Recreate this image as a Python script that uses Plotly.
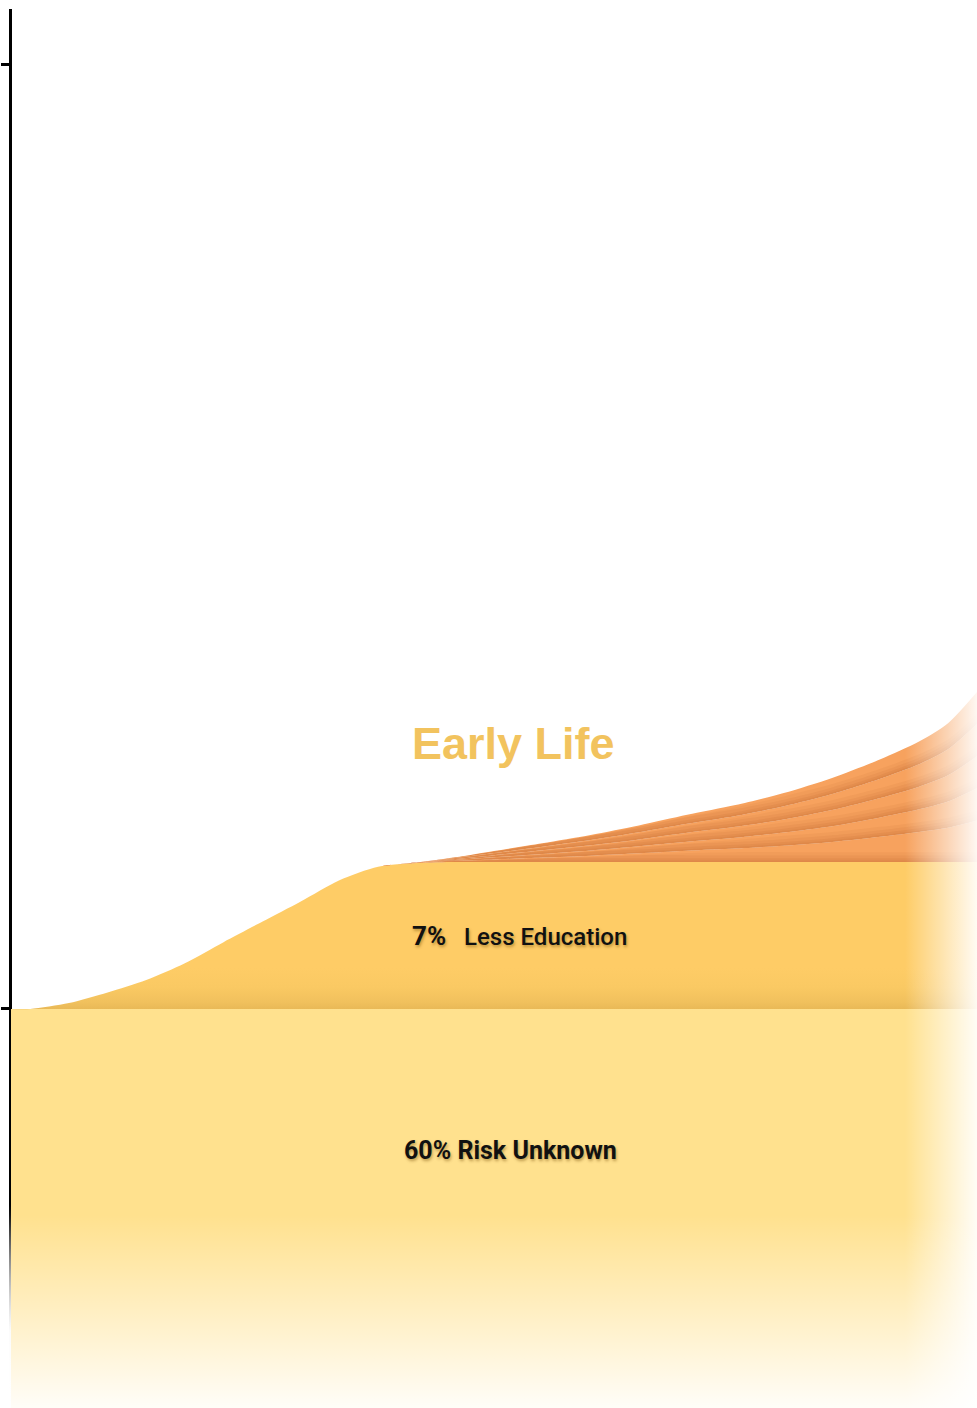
import numpy as np
import plotly.graph_objects as go

# ---------------- data ----------------
x_vals = [0, 2, 6, 10, 14, 18, 22, 26, 30, 34, 38,
          42, 46, 50, 55, 60, 65, 70, 75, 80, 85, 90, 94, 97, 100]

risk_unknown = [60] * 25

less_education = [0, 0, 0.25, 0.70, 1.23, 1.94, 2.83, 3.69, 4.55, 5.45, 6.02,
                  6.18, 6.22, 6.22, 6.22, 6.22, 6.22, 6.22, 6.22, 6.22, 6.22, 6.22, 6.22, 6.22, 6.22]

midlife_1 = [0] * 11 + [0.01, 0.05, 0.11, 0.19, 0.27, 0.37, 0.48, 0.57, 0.69, 0.85, 1.07, 1.27, 1.45, 1.76]
midlife_2 = [0] * 11 + [0.004, 0.04, 0.09, 0.15, 0.22, 0.30, 0.38, 0.46, 0.56, 0.67, 0.82, 0.96, 1.11, 1.36]
midlife_3 = [0] * 11 + [0.003, 0.04, 0.09, 0.16, 0.22, 0.29, 0.38, 0.46, 0.55, 0.68, 0.82, 0.96, 1.11, 1.36]
midlife_4 = [0] * 11 + [0.003, 0.04, 0.09, 0.15, 0.22, 0.30, 0.38, 0.46, 0.56, 0.68, 0.82, 0.95, 1.10, 1.36]
midlife_5 = [0] * 11 + [0.002, 0.03, 0.09, 0.15, 0.22, 0.29, 0.38, 0.46, 0.56, 0.68, 0.82, 0.96, 1.11, 1.36]

tick_values = [60, 100]
stage_title = "Early Life"
label_less_ed = ("7%", "Less Education")
label_unknown = "60% Risk Unknown"

# ---------------- styling ----------------
Y_MIN, Y_MAX = 43.11, 102.33
X_MIN, X_MAX = -1.139, 100

C_UNKNOWN = "#FFE18E"
C_LESS_ED = "#FECC66"
C_MID = "#F7A25E"
SHADOW = "rgba(170,80,25,{a})"
SMOOTH = 0.75

fig = go.Figure()
xs = np.array(x_vals, dtype=float)
ru = np.array(risk_unknown, dtype=float)
le_top = ru + np.array(less_education, dtype=float)

common = dict(mode="lines", hoverinfo="skip", showlegend=False)
spl = dict(width=0, shape="spline", smoothing=SMOOTH)

# bottom band
fig.add_trace(go.Scatter(x=xs, y=ru, fill="tozeroy", fillcolor=C_UNKNOWN,
                         line=dict(width=0), **common))
# less education band
fig.add_trace(go.Scatter(
    x=xs, y=le_top, fill="tonexty",
    fillgradient=dict(type="vertical", start=float(ru.min()), stop=float(le_top.max()),
                      colorscale=[[0, "#E9B957"], [0.05, "#F1C15D"], [0.15, "#FAC963"],
                                  [0.28, C_LESS_ED], [1, C_LESS_ED]]),
    line=spl, **common))

# midlife layers
layers = [midlife_1, midlife_2, midlife_3, midlife_4, midlife_5]
bounds = [le_top]
for lay in layers:
    bounds.append(bounds[-1] + np.array(lay, dtype=float))

for k, lay in enumerate(layers):
    thick = np.array(lay, dtype=float)
    fig.add_trace(go.Scatter(x=xs, y=bounds[k], line=spl, **common))
    fig.add_trace(go.Scatter(x=xs, y=bounds[k + 1], fill="tonexty", fillcolor=C_MID,
                             line=spl, **common))
    for depth, alpha in [(0.42, 0.07), (0.28, 0.08), (0.16, 0.09), (0.07, 0.08)]:
        fig.add_trace(go.Scatter(x=xs, y=bounds[k], line=spl, **common))
        fig.add_trace(go.Scatter(x=xs, y=bounds[k] + np.minimum(depth, thick * 0.8), fill="tonexty",
                                 fillcolor=SHADOW.format(a=alpha), line=spl, **common))

# right fade overlay
fx0 = 92.55
fig.add_trace(go.Scatter(
    x=[fx0, X_MAX + 1, X_MAX + 1, fx0, fx0], y=[Y_MIN - 1, Y_MIN - 1, Y_MAX + 1, Y_MAX + 1, Y_MIN - 1],
    fill="toself", line=dict(width=0),
    fillgradient=dict(type="horizontal", start=fx0, stop=X_MAX,
                      colorscale=[[0, "rgba(255,255,255,0)"], [1, "rgba(255,255,255,0.92)"]]),
    **common))
# bottom fade overlay
fy1 = 51.28
fig.add_trace(go.Scatter(
    x=[X_MIN - 1, X_MAX + 1, X_MAX + 1, X_MIN - 1, X_MIN - 1], y=[Y_MIN - 1, Y_MIN - 1, fy1, fy1, Y_MIN - 1],
    fill="toself", line=dict(width=0),
    fillgradient=dict(type="vertical", start=Y_MIN, stop=fy1,
                      colorscale=[[0, "rgba(255,255,255,0.94)"], [1, "rgba(255,255,255,0)"]]),
    **common))
# axis line fade overlay (margin strip)
fy2 = 51.70
fig.add_trace(go.Scatter(
    x=[X_MIN - 1, 0, 0, X_MIN - 1, X_MIN - 1], y=[Y_MIN - 1, Y_MIN - 1, fy2, fy2, Y_MIN - 1],
    fill="toself", line=dict(width=0),
    fillgradient=dict(type="vertical", start=Y_MIN, stop=fy2,
                      colorscale=[[0, "rgba(255,255,255,1)"], [0.38, "rgba(255,255,255,0.97)"],
                                  [1, "rgba(255,255,255,0)"]]),
    **common))

# ---------------- annotations ----------------
txt_shadow = "1px 2px 3px rgba(110,70,0,0.45)"
fig.add_annotation(x=51.97, y=71.22, xref="x", yref="y", text=stage_title, showarrow=False,
                   font=dict(family="Liberation Sans, Arial, sans-serif", size=45,
                             color="#F2C35E", weight="bold"))
fig.add_annotation(x=52.65, y=float(ru.max() + max(less_education) / 2), xref="x", yref="y",
                   text=f"<span style='font-size:26px'><b>{label_less_ed[0]}</b></span>\u00a0\u00a0\u00a0{label_less_ed[1]}",
                   showarrow=False,
                   font=dict(family="Roboto, sans-serif", size=24, color="#111111", weight=500,
                             shadow=txt_shadow))
fig.add_annotation(x=51.66, y=54.03, xref="x", yref="y", text=f"<b>{label_unknown}</b>",
                   showarrow=False,
                   font=dict(family="Roboto, sans-serif", size=25, color="#111111",
                             shadow=txt_shadow))

fig.update_layout(
    width=977, height=1408,
    margin=dict(l=0, r=0, t=9, b=0, pad=0),
    paper_bgcolor="white", plot_bgcolor="white",
    showlegend=False, hovermode=False,
    xaxis=dict(visible=False, range=[X_MIN, X_MAX], domain=[0, 1], fixedrange=True),
    yaxis=dict(range=[Y_MIN, Y_MAX], anchor="free", position=9.5 / 977, side="left",
               showline=True, linewidth=3, linecolor="black",
               ticks="outside", ticklen=8, tickwidth=3, tickcolor="black",
               tickvals=tick_values, showticklabels=False,
               showgrid=False, zeroline=False, layer="below traces", fixedrange=True),
)

fig.write_html("out.html", config={"displayModeBar": False, "responsive": False})
